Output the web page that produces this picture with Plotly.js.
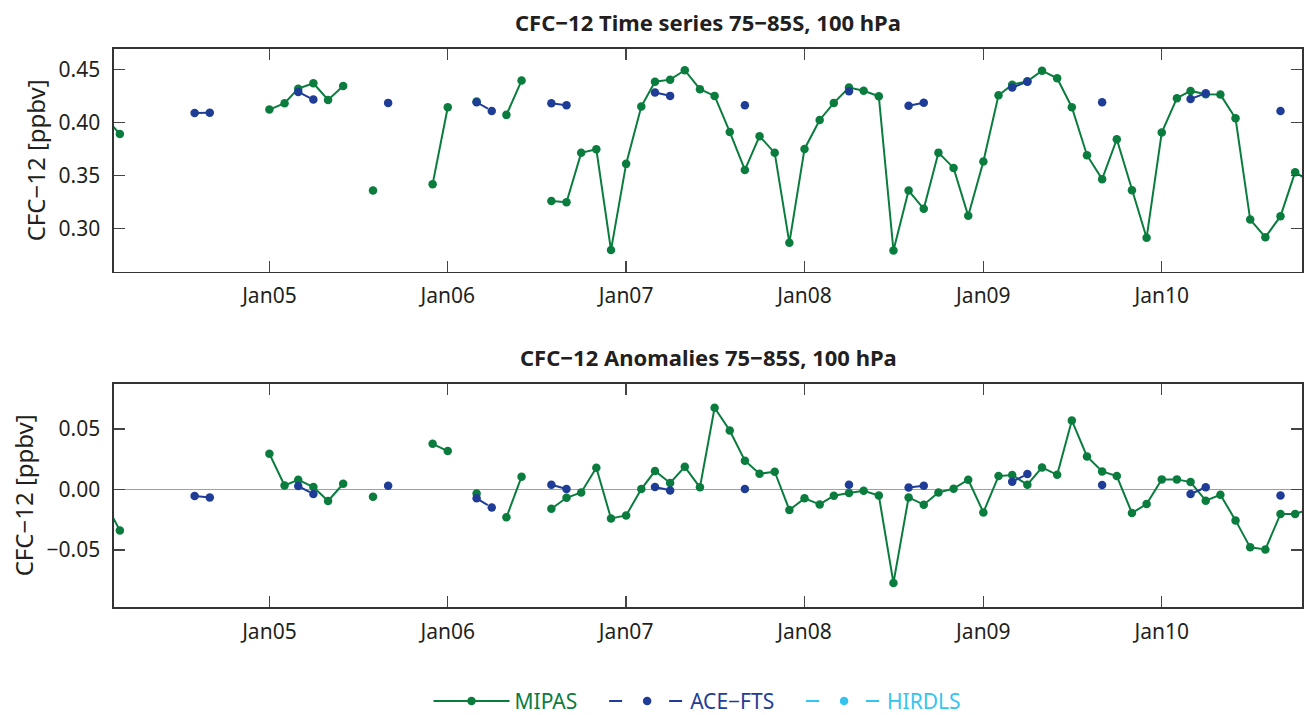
<!DOCTYPE html>
<html>
<head>
<meta charset="utf-8">
<script src="https://cdn.plot.ly/plotly-3.0.1.min.js"></script>
<style>html,body{margin:0;padding:0;background:#fff;}#chart{width:1311px;height:715px;}</style>
</head>
<body>
<div id="chart"></div>
<script>
// ---- data (null = gap in the record) ----
const mipasDates = ['2004-02-01','2004-03-01',null,
 '2005-01-01','2005-02-01','2005-03-01','2005-04-01','2005-05-01','2005-06-01',null,
 '2005-08-01',null,
 '2005-12-01','2006-01-01',null,
 '2006-03-01',null,
 '2006-05-01','2006-06-01',null,
 '2006-08-01','2006-09-01','2006-10-01','2006-11-01','2006-12-01',
 '2007-01-01','2007-02-01','2007-03-01','2007-04-01','2007-05-01','2007-06-01','2007-07-01','2007-08-01','2007-09-01','2007-10-01','2007-11-01','2007-12-01',
 '2008-01-01','2008-02-01','2008-03-01','2008-04-01','2008-05-01','2008-06-01','2008-07-01','2008-08-01','2008-09-01','2008-10-01','2008-11-01','2008-12-01',
 '2009-01-01','2009-02-01','2009-03-01','2009-04-01','2009-05-01','2009-06-01','2009-07-01','2009-08-01','2009-09-01','2009-10-01','2009-11-01','2009-12-01',
 '2010-01-01','2010-02-01','2010-03-01','2010-04-01','2010-05-01','2010-06-01','2010-07-01','2010-08-01','2010-09-01','2010-10-01','2010-11-01'];

const mipasSeries = [0.404,0.389,null,
 0.412,0.418,0.4317,0.4368,0.4211,0.4343,null,
 0.3356,null,
 0.3417,0.4142,null,
 0.4195,null,
 0.4070,0.4393,null,
 0.3257,0.3247,0.3712,0.3746,0.2795,
 0.3608,0.4148,0.4383,0.4402,0.4491,0.4312,0.4249,0.3909,0.3551,0.3869,0.3712,0.2864,
 0.3749,0.4022,0.4183,0.4327,0.4298,0.4246,0.2791,0.3356,0.3184,0.3714,0.3570,0.3118,
 0.3630,0.4255,0.4355,0.4387,0.4487,0.4415,0.4142,0.3690,0.3464,0.3840,0.3360,0.2911,
 0.3903,0.4227,0.4296,0.4264,0.4261,0.4038,0.3083,0.2917,0.3115,0.3530,0.3440];

const mipasAnomalies = [-0.012,-0.0339,null,
 0.0295,0.0033,0.008,0.002,-0.0096,0.0047,null,
 -0.006,null,
 0.0377,0.0317,null,
 -0.0033,null,
 -0.0231,0.0105,null,
 -0.016,-0.0069,-0.0025,0.0179,-0.024,
 -0.0215,0.0003,0.0152,0.0053,0.0187,0.0017,0.0675,0.0487,0.0237,0.013,0.0146,-0.017,
 -0.0074,-0.0124,-0.0052,-0.003,-0.0011,-0.005,-0.0773,-0.0066,-0.0126,-0.0025,0.0006,0.008,
 -0.019,0.011,0.0119,0.0039,0.0182,0.0121,0.057,0.0273,0.0149,0.011,-0.0195,-0.0121,
 0.0083,0.0083,0.0061,-0.0093,-0.0044,-0.0256,-0.0479,-0.0496,-0.0203,-0.0203,-0.016];

const aceDates = ['2004-08-01','2004-09-01',null,
 '2005-03-01','2005-04-01',null,
 '2005-09-01',null,
 '2006-03-01','2006-04-01',null,
 '2006-08-01','2006-09-01',null,
 '2007-03-01','2007-04-01',null,
 '2007-09-01',null,
 '2008-04-01',null,
 '2008-08-01','2008-09-01',null,
 '2009-03-01','2009-04-01',null,
 '2009-09-01',null,
 '2010-03-01','2010-04-01',null,
 '2010-09-01'];

const aceSeries = [0.4088,0.4091,null,
 0.4286,0.4214,null,
 0.4183,null,
 0.4189,0.4107,null,
 0.4180,0.4161,null,
 0.4280,0.4249,null,
 0.4161,null,
 0.4293,null,
 0.4155,0.4185,null,
 0.4327,0.4383,null,
 0.4189,null,
 0.4220,0.4274,null,
 0.4107];

const aceAnomalies = [-0.0055,-0.0066,null,
 0.0028,-0.0038,null,
 0.0030,null,
 -0.0074,-0.0149,null,
 0.0039,0.0003,null,
 0.0020,-0.0008,null,
 0.0003,null,
 0.0039,null,
 0.0015,0.0030,null,
 0.0064,0.0127,null,
 0.0036,null,
 -0.0038,0.0017,null,
 -0.0050];

// HIRDLS has no valid values in this region/level (legend entry only)
const hirdlsDates = ['2005-01-01'];
const hirdlsSeries = [null];
const hirdlsAnomalies = [null];

const seriesNames = ['MIPAS','ACE\u2212FTS','HIRDLS'];
const panelTitles = ['CFC\u221212 Time series 75\u221285S, 100 hPa','CFC\u221212 Anomalies 75\u221285S, 100 hPa'];
const yAxisLabel = 'CFC\u221212 [ppbv]';
const topTicks = [0.30,0.35,0.40,0.45];
const bottomTicks = [-0.05,0,0.05];

// ---- styles ----
const FONT = 'Noto Sans, DejaVu Sans, sans-serif';
const TXT = '#231f20';
const cGreen = '#0a7d3e';
const cBlue = '#1f3d96';
const cLight = '#35c4ef';
const NB = '\u00a0\u00a0\u00a0\u00a0';

function tr(x, y, name, color, dash, axis, legend) {
  return {
    type: 'scatter', mode: 'lines+markers', x: x, y: y,
    xaxis: axis[0], yaxis: axis[1],
    name: '<span style="color:' + color + '">' + name + '</span>' + NB,
    showlegend: legend, connectgaps: false, cliponaxis: true,
    line: {color: color, width: 2, dash: dash},
    marker: {color: color, size: 8.5}
  };
}
const aceDash = '13px,47px';
const data = [
  tr(mipasDates, mipasSeries, seriesNames[0], cGreen, 'solid', ['x','y'], true),
  tr(aceDates, aceSeries, seriesNames[1], cBlue, aceDash, ['x','y'], true),
  tr(hirdlsDates, hirdlsSeries, seriesNames[2], cLight, aceDash, ['x','y'], true),
  tr(mipasDates, mipasAnomalies, seriesNames[0], cGreen, 'solid', ['x2','y2'], false),
  tr(aceDates, aceAnomalies, seriesNames[1], cBlue, aceDash, ['x2','y2'], false),
  tr(hirdlsDates, hirdlsAnomalies, seriesNames[2], cLight, aceDash, ['x2','y2'], false)
];

const xBase = {
  type: 'date', range: ['2004-02-18','2010-10-15'],
  tick0: '2005-01-01', dtick: 'M12', tickformat: '%b%y',
  ticks: 'inside', ticklen: 11, tickwidth: 1.3, tickcolor: '#444',
  showline: true, linecolor: '#333', linewidth: 1.6, mirror: 'ticks',
  showgrid: false, zeroline: false, automargin: false,
  tickfont: {family: FONT, size: 21, color: TXT}, ticklabelstandoff: 5
};
const yBase = {
  ticks: 'inside', ticklen: 11, tickwidth: 1.3, tickcolor: '#444',
  showline: true, linecolor: '#333', linewidth: 1.6, mirror: 'ticks',
  showgrid: false, tickformat: '.2f', automargin: false,
  tickfont: {family: FONT, size: 21, color: TXT}, ticklabelstandoff: 8,
  title: {text: yAxisLabel, font: {family: FONT, size: 24, color: TXT}, standoff: 6}
};

const layout = {
  width: 1311, height: 715,
  paper_bgcolor: '#fff', plot_bgcolor: '#fff',
  margin: {l: 114, r: 9, t: 49, b: 108, autoexpand: false},
  font: {family: FONT, color: TXT},
  xaxis: Object.assign({}, xBase, {domain: [0,1], anchor: 'y'}),
  yaxis: Object.assign({}, yBase, {domain: [0.601, 1], anchor: 'x', range: [0.2592, 0.4691], tickvals: topTicks, zeroline: false}),
  xaxis2: Object.assign({}, xBase, {domain: [0,1], anchor: 'y2'}),
  yaxis2: Object.assign({}, yBase, {domain: [0, 0.4002], anchor: 'x2', range: [-0.0972, 0.0874], tickvals: bottomTicks,
     zeroline: true, zerolinecolor: '#a0a0a0', zerolinewidth: 1.6}),
  showlegend: true,
  legend: {orientation: 'h', x: 0.5, xanchor: 'center', yref: 'container', y: 0.019, yanchor: 'middle',
     font: {family: FONT, size: 21, color: TXT}, itemwidth: 76, bgcolor: 'rgba(0,0,0,0)', traceorder: 'normal'},
  annotations: [
    {text: '<b>' + panelTitles[0] + '</b>', xref: 'paper', yref: 'paper', x: 0.5, y: 1.0484, xanchor: 'center', yanchor: 'middle', showarrow: false, font: {family: FONT, size: 22, color: TXT}},
    {text: '<b>' + panelTitles[1] + '</b>', xref: 'paper', yref: 'paper', x: 0.5, y: 0.4486, xanchor: 'center', yanchor: 'middle', showarrow: false, font: {family: FONT, size: 22, color: TXT}}
  ]
};

Plotly.newPlot('chart', data, layout, {displayModeBar: false, staticPlot: true});
</script>
</body>
</html>
